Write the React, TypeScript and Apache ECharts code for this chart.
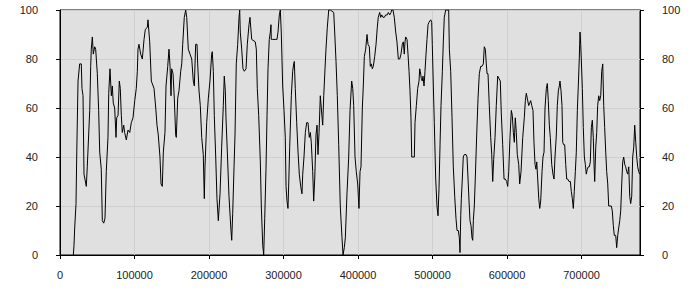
import React, { useEffect, useRef } from "react";
import * as echarts from "echarts";

const xValues = [17900, 18800, 19700, 21500, 22400, 24200, 26400, 28600, 29500, 30900, 32200, 35300, 36600, 39900, 41200, 42000, 43400, 44700, 46600, 47900, 50100, 51900, 53300, 55400, 56800, 58700, 60400, 62100, 64400, 65400, 67100, 68900, 70200, 71500, 73400, 75200, 76100, 77900, 79600, 80900, 82300, 83600, 85500, 86800, 89000, 91300, 93600, 95700, 98000, 100300, 102400, 103800, 104700, 106000, 108300, 110500, 112800, 114500, 117200, 118100, 120400, 122600, 126200, 128500, 130200, 131900, 134200, 135600, 137300, 138700, 140900, 142300, 144600, 146300, 147700, 149000, 149900, 151700, 153400, 155300, 156100, 158000, 159700, 162000, 163400, 164700, 166800, 168700, 170100, 172200, 174500, 176800, 178900, 180300, 182100, 183900, 184800, 186600, 188300, 190200, 192300, 193700, 194600, 196900, 199100, 201300, 203600, 204400, 205800, 207100, 209000, 210700, 212500, 214800, 217000, 219200, 220500, 221900, 222800, 225100, 226800, 229500, 230500, 231800, 233600, 234900, 236600, 238500, 240300, 241200, 242000, 243900, 245600, 247400, 249700, 251400, 253700, 255000, 257300, 262100, 263500, 264800, 266700, 268900, 270200, 272100, 273400, 274800, 276500, 277900, 279200, 280900, 282300, 283200, 283600, 285500, 289000, 291300, 292600, 294400, 295700, 297000, 298900, 300700, 302400, 303400, 304700, 306000, 307000, 308300, 310500, 312300, 313700, 314500, 315800, 317700, 319500, 321200, 323100, 324800, 325800, 327500, 329300, 331100, 332900, 334600, 336000, 337300, 339200, 340500, 341900, 343600, 345000, 346300, 347700, 349400, 350700, 352600, 354000, 355700, 357000, 358800, 360700, 362800, 367400, 368700, 370500, 372200, 374100, 376200, 378500, 379900, 381600, 383000, 385200, 387500, 389300, 391500, 392900, 394200, 396000, 397700, 399600, 401300, 402700, 404000, 405800, 407100, 408500, 410300, 412100, 413400, 415200, 416500, 417900, 419200, 420500, 422400, 424200, 425900, 427200, 429100, 430500, 431800, 433600, 435300, 437200, 439300, 440700, 442600, 444300, 445200, 447000, 448700, 450600, 452300, 454100, 456000, 457700, 459500, 460800, 462100, 463100, 464000, 465800, 467100, 468500, 469800, 471100, 472100, 475600, 476500, 478300, 480100, 481900, 482800, 483600, 485000, 486300, 487200, 488600, 489900, 491300, 492600, 494000, 495300, 497600, 498900, 499700, 501100, 502400, 504300, 506000, 507400, 508700, 510100, 511400, 513200, 514500, 515800, 517700, 521700, 522600, 524400, 526200, 527900, 529800, 531500, 532900, 534600, 536000, 536900, 537900, 538700, 540000, 541300, 542700, 545000, 546300, 547700, 549000, 550300, 551700, 553000, 554000, 554800, 556100, 557400, 559300, 561100, 562800, 564700, 566400, 568200, 569500, 570900, 572200, 573200, 574500, 576200, 578100, 579500, 580800, 582100, 583900, 585600, 587500, 589300, 591000, 592300, 594200, 596000, 597700, 599600, 600900, 602300, 604000, 605800, 607100, 608500, 609800, 611100, 612500, 613800, 615700, 617000, 618800, 621100, 623200, 624600, 625900, 627200, 629100, 630500, 631800, 633200, 634900, 636200, 637600, 638900, 639900, 641200, 642600, 643900, 645200, 647000, 648300, 649700, 651000, 652800, 654100, 655400, 656800, 658100, 660000, 661700, 663100, 664400, 666200, 667500, 668900, 670200, 671100, 672500, 673800, 674800, 676100, 677400, 678800, 680100, 681500, 683200, 685000, 686300, 687700, 689000, 690300, 691700, 693000, 694400, 695700, 697000, 698000, 698900, 699700, 701100, 702400, 703800, 705100, 706400, 707800, 709100, 710500, 711800, 713200, 714500, 715800, 716800, 717700, 719100, 720400, 721700, 723100, 724400, 725800, 727100, 728500, 729800, 731100, 732500, 733800, 735200, 736500, 738300, 740000, 741300, 742700, 744000, 745900, 747200, 748600, 749900, 751300, 752600, 754000, 755300, 756600, 758000, 759300, 760700, 762000, 763400, 764700, 766000, 767400, 768700, 770100, 771400, 772800, 774100, 775400, 776800, 778100];

const yValues = [0, 4, 11, 21, 40, 71, 78, 78, 68, 65, 33, 28, 36, 59, 77, 84, 89, 82, 85, 84, 74, 59, 42, 35, 14, 13, 15, 34, 48, 66, 76, 65, 69, 62, 60, 48, 56, 57, 71, 68, 57, 50, 53, 50, 47, 51, 50, 54, 56, 63, 68, 75, 84, 86, 82, 80, 88, 92, 93, 96, 87, 71, 68, 60, 53, 49, 40, 29, 28, 42, 50, 69, 77, 84, 77, 65, 76, 74, 64, 49, 48, 64, 67, 75, 78, 86, 97, 100, 97, 84, 82, 80, 71, 69, 86, 86, 78, 67, 61, 48, 41, 23, 36, 54, 64, 71, 82, 83, 75, 57, 40, 23, 14, 25, 44, 61, 73, 67, 56, 38, 24, 10, 6, 17, 36, 49, 78, 86, 97, 100, 91, 84, 76, 75, 76, 86, 94, 97, 88, 87, 84, 68, 57, 38, 20, 4, 0, 15, 35, 57, 76, 88, 91, 94, 88, 88, 88, 88, 91, 98, 100, 91, 69, 59, 48, 28, 22, 19, 29, 44, 65, 75, 78, 79, 68, 54, 42, 33, 28, 25, 33, 40, 50, 54, 54, 48, 50, 46, 34, 22, 31, 49, 53, 41, 50, 65, 60, 53, 65, 76, 84, 93, 100, 100, 99, 91, 79, 65, 45, 20, 7, 0, 3, 7, 25, 40, 59, 71, 68, 61, 40, 34, 29, 19, 34, 36, 60, 69, 81, 84, 90, 86, 85, 77, 78, 76, 77, 81, 86, 93, 97, 99, 97, 98, 97, 97, 98, 98, 99, 98, 99, 100, 100, 97, 91, 87, 80, 80, 82, 86, 87, 82, 87, 89, 88, 82, 75, 67, 56, 40, 40, 54, 61, 68, 71, 76, 75, 72, 71, 73, 69, 75, 82, 88, 94, 95, 96, 95, 86, 69, 54, 31, 20, 16, 27, 45, 61, 75, 87, 97, 100, 100, 84, 75, 56, 36, 24, 15, 10, 10, 7, 1, 16, 23, 31, 40, 41, 41, 40, 31, 22, 14, 12, 7, 6, 14, 20, 31, 49, 64, 74, 77, 77, 78, 85, 84, 78, 74, 74, 61, 48, 41, 30, 39, 48, 61, 73, 72, 71, 58, 45, 31, 31, 30, 28, 34, 48, 59, 57, 50, 46, 56, 50, 41, 37, 29, 34, 48, 56, 63, 66, 64, 61, 62, 63, 61, 59, 46, 37, 35, 38, 31, 23, 19, 22, 34, 40, 42, 60, 68, 70, 63, 53, 48, 37, 33, 31, 40, 49, 61, 67, 69, 71, 67, 61, 46, 45, 45, 37, 31, 31, 30, 30, 26, 23, 19, 26, 34, 42, 59, 69, 80, 91, 86, 80, 68, 52, 40, 37, 33, 35, 36, 36, 38, 52, 55, 48, 37, 30, 44, 50, 61, 65, 63, 65, 75, 78, 61, 52, 42, 34, 29, 20, 20, 20, 18, 12, 8, 8, 3, 8, 11, 14, 18, 29, 38, 40, 37, 36, 34, 33, 36, 24, 21, 24, 40, 44, 53, 46, 40, 36, 34, 33];

const xMin = 0;
const xMax = 778500;
const xStep = 100000;
const yMin = 0;
const yMax = 100;
const yStep = 20;

export default function App() {
  const ref = useRef<HTMLDivElement>(null);
  useEffect(() => {
    if (!ref.current) return;
    const chart = echarts.init(ref.current, null, { renderer: "svg" });
    const n = Math.min(xValues.length, yValues.length);
    const data: number[][] = [];
    for (let i = 0; i < n; i++) data.push([xValues[i], yValues[i]]);
    const labelStyle = {
      color: "#222",
      fontFamily: "Liberation Sans, Arial, sans-serif",
      fontSize: 11,
    };
    const yAxisBase = (pos: "left" | "right") => ({
      type: "value" as const,
      position: pos,
      min: yMin,
      max: yMax,
      interval: yStep,
      axisLine: { show: true, lineStyle: { color: "#000", width: 1 } },
      axisTick: { show: true, length: 4, lineStyle: { color: "#000" } },
      axisLabel: { ...labelStyle, margin: 22, formatter: (v: number) => String(v) },
      splitLine: { show: pos === "left", lineStyle: { color: "#cfcfcf", width: 1 } },
    });
    chart.setOption({
      animation: false,
      backgroundColor: "#ffffff",
      grid: {
        left: 60,
        right: 60,
        top: 10,
        bottom: 45,
        show: true,
        backgroundColor: "#e0e0e0",
        borderColor: "#000",
        borderWidth: 1,
      },
      xAxis: {
        type: "value",
        min: xMin,
        max: xMax,
        interval: xStep,
        axisLine: { show: true, onZero: false, lineStyle: { color: "#000", width: 1 } },
        axisTick: { show: true, length: 4, lineStyle: { color: "#000" } },
        axisLabel: { ...labelStyle, margin: 14, showMaxLabel: false, formatter: (v: number) => String(v) },
        splitLine: { show: true, lineStyle: { color: "#cfcfcf", width: 1 } },
      },
      yAxis: [yAxisBase("left"), yAxisBase("right")],
      series: [
        {
          type: "line",
          data,
          showSymbol: false,
          symbol: "none",
          lineStyle: { color: "#000", width: 1 },
          silent: true,
        },
      ],
    });
    return () => chart.dispose();
  }, []);
  return <div ref={ref} style={{ width: 700, height: 300, position: "absolute", left: 0, top: 0 }} />;
}
